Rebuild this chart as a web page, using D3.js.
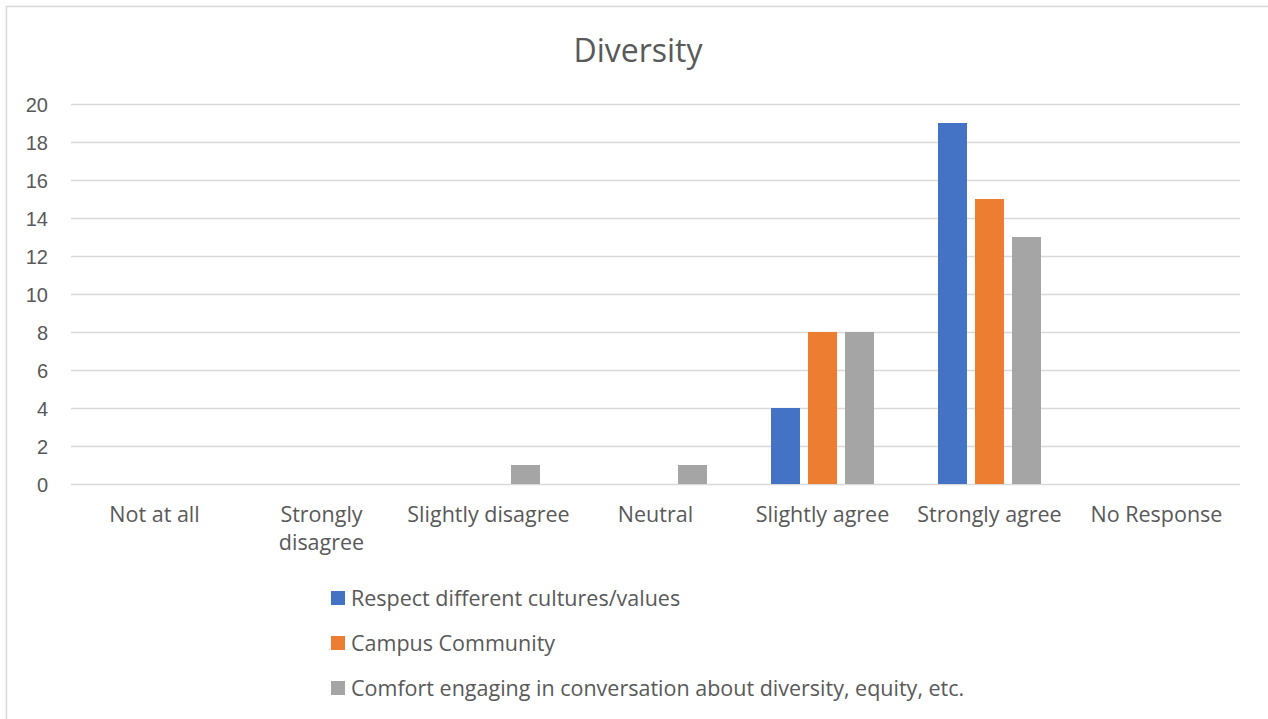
<!DOCTYPE html>
<html lang="en">
<head>
<meta charset="UTF-8">
<title>Diversity</title>
<style>
  html, body { margin: 0; padding: 0; background: #fff; }
  svg { display: block; font-family: "Open Sans", "Liberation Sans", sans-serif; }
</style>
</head>
<body>
<svg id="svg" width="1268" height="719"></svg>
<script src="https://d3js.org/d3.v7.min.js"></script>
<script>
  const categories = ['Not at all', 'Strongly disagree', 'Slightly disagree', 'Neutral', 'Slightly agree', 'Strongly agree', 'No Response']
  const categoryLabels = ['Not at all', 'Strongly\ndisagree', 'Slightly disagree', 'Neutral', 'Slightly agree', 'Strongly agree', 'No Response']
  const seriesNames = ['Respect different cultures/values', 'Campus Community', 'Comfort engaging in conversation about diversity, equity, etc.']
  const respectValues = [0, 0, 0, 0, 4, 19, 0]
  const campusValues = [0, 0, 0, 0, 8, 15, 0]
  const comfortValues = [0, 0, 1, 1, 8, 13, 0]
  const yTicks = [0, 2, 4, 6, 8, 10, 12, 14, 16, 18, 20]
  const colors = ['#4472c4', '#ed7d31', '#a5a5a5']

  const allSeries = [respectValues, campusValues, comfortValues]
  const data = categories.map((c, i) => ({
    cat: c,
    values: seriesNames.map((s, j) => ({ key: s, value: allSeries[j][i] }))
  }))

  const margin = { top: 104, right: 28, bottom: 235, left: 71 }
  const W = 1268, H = 719
  const textColor = '#595959'

  const svg = d3.select('#svg')

  // chart frame (right and bottom edges run off the picture)
  svg.append('rect')
    .attr('x', 6.5).attr('y', 6.5)
    .attr('width', 1300).attr('height', 730)
    .attr('fill', 'none').attr('stroke', '#d9d9d9').attr('stroke-width', 1.5)

  const x0 = d3.scaleBand()
    .domain(categories)
    .range([margin.left, W - margin.right])
    .padding(0)

  const groupPad = 32
  const x1 = d3.scaleBand()
    .domain(seriesNames)
    .range([groupPad, x0.bandwidth() - groupPad])
    .paddingInner(0.216)

  const y = d3.scaleLinear()
    .domain([0, 20])
    .range([H - margin.bottom, margin.top])

  // gridlines
  svg.append('g')
    .selectAll('line')
    .data(yTicks)
    .enter()
    .append('line')
    .attr('x1', margin.left).attr('x2', W - margin.right)
    .attr('y1', d => Math.round(y(d)) + 0.5).attr('y2', d => Math.round(y(d)) + 0.5)
    .attr('stroke', '#d9d9d9').attr('stroke-width', 1.5)

  // y axis labels
  const leftAxis = d3.axisLeft(y).tickValues(yTicks).tickSize(0).tickPadding(0)
  const yg = svg.append('g')
    .attr('transform', `translate(${48}, 0)`)
    .call(leftAxis)
  yg.select('.domain').remove()
  yg.selectAll('text')
    .attr('fill', textColor)
    .style('font-size', '20px')
    .attr('dy', '0.35em')

  // bars
  svg.append('g')
    .selectAll('g')
    .data(data)
    .enter()
    .append('g')
    .attr('transform', d => `translate(${x0(d.cat)}, 0)`)
    .selectAll('rect')
    .data(d => d.values)
    .enter()
    .append('rect')
    .attr('x', d => x1(d.key))
    .attr('y', d => y(d.value))
    .attr('width', x1.bandwidth())
    .attr('height', d => y(0) - y(d.value))
    .attr('fill', (d, i) => colors[i])

  // category labels
  const catG = svg.append('g')
  categories.forEach((c, i) => {
    const lines = categoryLabels[i].split('\n')
    const t = catG.append('text')
      .attr('x', x0(c) + x0.bandwidth() / 2)
      .attr('y', 522)
      .attr('text-anchor', 'middle')
      .attr('fill', textColor)
      .style('font-size', '21.5px')
    lines.forEach((l, k) => {
      t.append('tspan')
        .attr('x', x0(c) + x0.bandwidth() / 2)
        .attr('dy', k === 0 ? 0 : 28)
        .text(l)
    })
  })

  // title
  svg.append('text')
    .attr('x', 638).attr('y', 62)
    .attr('text-anchor', 'middle')
    .attr('fill', textColor)
    .style('font-size', '32px')
    .text('Diversity')

  // legend
  const legend = svg.append('g')
    .selectAll('g')
    .data(seriesNames)
    .enter()
    .append('g')
    .attr('transform', (d, i) => `translate(331, ${598 + i * 45})`)
  legend.append('rect')
    .attr('x', 0).attr('y', -7)
    .attr('width', 14).attr('height', 14)
    .attr('fill', (d, i) => colors[i])
  legend.append('text')
    .attr('x', 20).attr('y', 0)
    .attr('dy', '0.35em')
    .attr('fill', textColor)
    .style('font-size', '21.5px')
    .text(d => d)
</script>
</body>
</html>
